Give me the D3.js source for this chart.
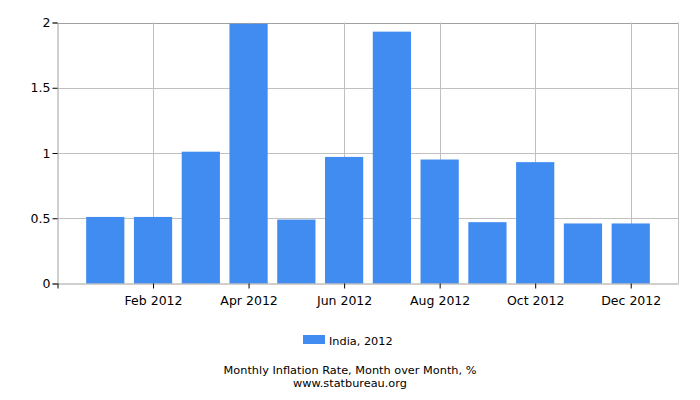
<!DOCTYPE html>
<html>
<head>
<meta charset="utf-8">
<script src="https://cdn.jsdelivr.net/npm/d3@7"></script>
<style>
  body { margin: 0; background: #fff; }
  svg { display: block; font-family: "DejaVu Sans", sans-serif; }
</style>
</head>
<body>
<svg id="chart" width="700" height="400"></svg>
<script>
const months = ["Jan 2012","Feb 2012","Mar 2012","Apr 2012","May 2012","Jun 2012","Jul 2012","Aug 2012","Sep 2012","Oct 2012","Nov 2012","Dec 2012"];
const values = [0.51, 0.51, 1.01, 1.99, 0.49, 0.97, 1.93, 0.95, 0.47, 0.93, 0.46, 0.46];
const yTicks = [0, 0.5, 1, 1.5, 2];
const xTickLabels = ["Feb 2012","Apr 2012","Jun 2012","Aug 2012","Oct 2012","Dec 2012"];
const seriesName = "India, 2012";
const title = "Monthly Inflation Rate, Month over Month, %";
const source = "www.statbureau.org";

const svg = d3.select("#chart");
const m = {left: 57.5, right: 678.5, top: 22.5, bottom: 283.5};
const color = "#418CF0";

// slots: one empty slot at each end
const slots = ["_s"].concat(months, ["_e"]);
const x = d3.scalePoint().domain(slots).range([m.left, m.right]);
const step = x.step();
const barW = step * 0.8;
const y = d3.scaleLinear().domain([0, 2]).range([m.bottom, m.top]);

// grid
const g = svg.append("g");
g.selectAll("line.hg").data(yTicks.filter(d => d > 0)).join("line")
  .attr("x1", m.left).attr("x2", m.right)
  .attr("y1", d => Math.round(y(d)) + 0.5).attr("y2", d => Math.round(y(d)) + 0.5)
  .attr("stroke", d => d === 2 ? "#a0a0a0" : "#c0c0c0").attr("stroke-width", 1);
g.selectAll("line.vg").data(xTickLabels).join("line")
  .attr("x1", d => Math.round(x(d)) + 0.5).attr("x2", d => Math.round(x(d)) + 0.5)
  .attr("y1", m.top).attr("y2", m.bottom)
  .attr("stroke", "#c0c0c0");
// right border
g.append("line").attr("x1", m.right).attr("x2", m.right).attr("y1", m.top).attr("y2", m.bottom).attr("stroke", "#c0c0c0");

// bars
svg.append("g").selectAll("rect").data(months).join("rect")
  .attr("x", (d) => x(d) - barW / 2)
  .attr("width", barW)
  .attr("y", (d, i) => y(values[i]))
  .attr("height", (d, i) => m.bottom - y(values[i]))
  .attr("fill", color);

// axes
const yAxis = d3.axisLeft(y).tickValues(yTicks).tickSize(5).tickPadding(2).tickFormat(d3.format("~g"));
const ya = svg.append("g").attr("transform", `translate(${m.left},0)`).call(yAxis);
ya.select(".domain").attr("stroke", "#a0a0a0");
ya.selectAll(".tick line").attr("stroke", "#000");
ya.selectAll("text").attr("font-size", 12.5).attr("fill", "#000").attr("font-family", "DejaVu Sans, sans-serif");

const xAxis = d3.axisBottom(x).tickValues(["_s"].concat(xTickLabels)).tickSize(5).tickPadding(8).tickFormat(d => d === "_s" ? "" : d);
const xa = svg.append("g").attr("transform", `translate(0,${m.bottom})`).call(xAxis);
xa.select(".domain").attr("stroke", "#a0a0a0").attr("d", `M${m.left},0.5H${m.right}`);
xa.selectAll(".tick line").attr("stroke", "#000");
xa.selectAll("text").attr("font-size", 12.5).attr("fill", "#000").attr("font-family", "DejaVu Sans, sans-serif");

// legend
svg.append("rect").attr("x", 303).attr("y", 335).attr("width", 22).attr("height", 9).attr("fill", color);
svg.append("text").attr("x", 329).attr("y", 344.5).attr("font-size", 11.3).attr("fill", "#000").text(seriesName);

// titles
svg.append("text").attr("x", 350).attr("y", 374).attr("text-anchor", "middle").attr("font-size", 11.3).attr("fill", "#000").text(title);
svg.append("text").attr("x", 350).attr("y", 386.5).attr("text-anchor", "middle").attr("font-size", 11.3).attr("fill", "#000").text(source);
</script>
</body>
</html>
